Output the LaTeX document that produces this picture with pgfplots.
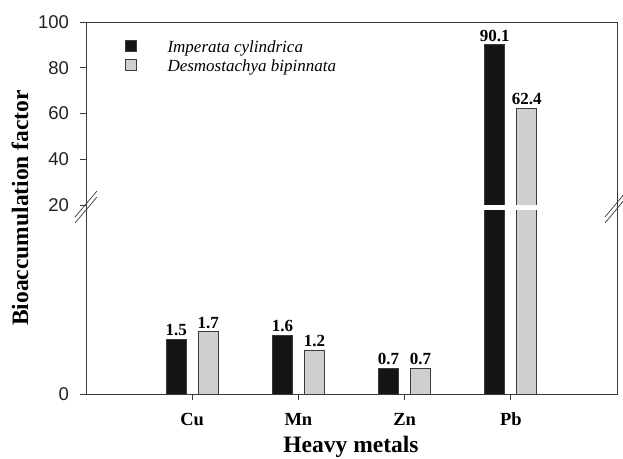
\documentclass[border=0pt]{standalone}
\usepackage{fontspec}
\setmainfont{Liberation Serif}
\newfontfamily\arialfont{Liberation Sans}
\usepackage{pgfplots}
\pgfplotsset{compat=1.18}
\definecolor{barblack}{HTML}{151515}
\definecolor{bargray}{HTML}{CFCFCF}
\definecolor{edge}{HTML}{3A3A3A}
\definecolor{ticktext}{HTML}{222222}
\pgfplotsset{
  brk/.style={
    width=531pt, height=183pt, scale only axis,
    xmin=0, xmax=5,
    axis line style={draw=none},
    tick align=outside, major tick length=5.5pt,
    tick style={edge, line width=0.8pt},
    ybar, bar width=20pt,
    ytick pos=left, xtick pos=bottom,
    /pgf/number format/assume math mode=true,
    yticklabel style={font=\arialfont\fontsize{18.5}{18.5}\selectfont, text=ticktext, xshift=-8pt},
    every node near coord/.append style={font=\bfseries\fontsize{17}{17}\selectfont, inner sep=0pt, yshift=3pt, text=black},
  },
  blk/.style={fill=barblack, draw=edge, line width=0.7pt, bar shift=-16pt},
  gry/.style={fill=bargray, draw=edge, line width=0.7pt, bar shift=16pt},
}
\begin{document}
\begin{tikzpicture}[x=1pt,y=1pt]
\useasboundingbox (0,0) rectangle (623,458);
% lower segment
\begin{axis}[brk, at={(86pt,64pt)}, anchor=south west,
  ymin=0, ymax=5, ytick={0},
  xtick={1,2,3,4}, xticklabels={Cu,Mn,Zn,Pb},
  xticklabel style={font=\bfseries\fontsize{18.5}{18.5}\selectfont, text=black, yshift=-10pt},
]
\addplot[blk, nodes near coords] coordinates {(1,1.5) (2,1.6) (3,0.7)};
\addplot[gry, nodes near coords] coordinates {(1,1.7) (2,1.2) (3,0.7)};
\addplot[blk] coordinates {(4,90.1)};
\addplot[gry] coordinates {(4,62.4)};
\end{axis}
% upper segment
\begin{axis}[brk, at={(86pt,253pt)}, anchor=south west,
  ymin=20, ymax=100, ytick={20,40,60,80,100},
  xtick=\empty,
  legend style={at={(0.0734,0.905)}, anchor=north west, draw=none, fill=none,
    font=\itshape\fontsize{17}{17}\selectfont, inner sep=0pt, row sep=5pt,
    nodes={inner sep=0pt}},
  legend cell align=left,
  legend image code/.code={\draw[#1, line width=0.7pt] (0pt,-4pt) rectangle (11pt,7pt); \path[draw=none,fill=none] (0pt,0pt) -- (42pt,0pt);},
]
\addplot[blk, nodes near coords] coordinates {(4,90.1)};
\addlegendentry{Imperata cylindrica}
\addplot[gry, nodes near coords] coordinates {(4,62.4)};
\addlegendentry{Desmostachya bipinnata}
\end{axis}
% frame
\draw[edge, line width=0.8pt] (86,64) rectangle (617,436);
% break marks
\foreach \yy in {254,248} {
  \draw[edge, line width=0.7pt] (75,\yy-13) -- (97,\yy+13);
  \draw[edge, line width=0.7pt] (605,\yy-13) -- (625,\yy+11);
}
\node[rotate=90, font=\bfseries\fontsize{23.5}{23.5}\selectfont] at (20,250) {Bioaccumulation factor};
\node[anchor=base, font=\bfseries\fontsize{23.5}{23.5}\selectfont] at (351,6) {Heavy metals};
\end{tikzpicture}
\end{document}
